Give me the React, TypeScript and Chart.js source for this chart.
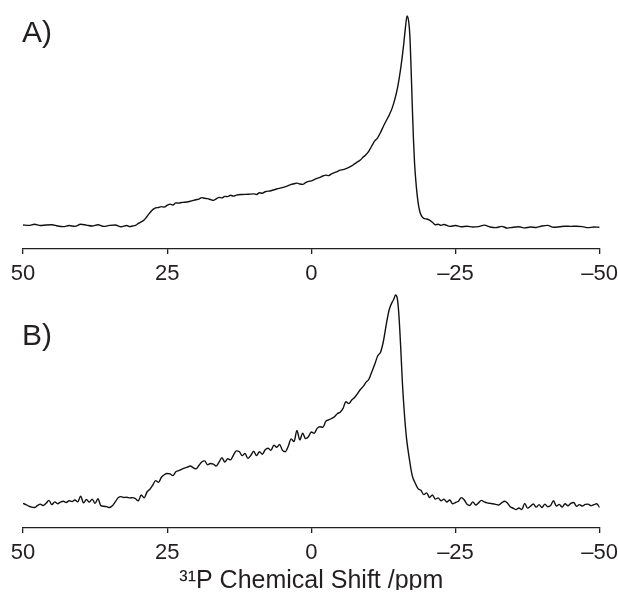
import React, { useEffect, useRef } from "react";
import { Chart, registerables } from "chart.js";

Chart.register(...registerables);

// Tick positions / labels on the chemical-shift axis (ppm, reversed)
const TICK_VALUES = [50, 25, 0, -25, -50];
const TICK_LABELS = ["50", "25", "0", "\u201325", "\u201350"];
const AXIS_TITLE = "\u00B3\u00B9P Chemical Shift /ppm";
const PANEL_LABELS = ["A)", "B)"];

// Spectrum A
const PPM_A = [
  50, 49, 48, 47, 46, 45, 44, 43, 42, 41, 40, 39, 38, 37, 36, 35, 34, 33, 32, 31.5, 31, 30.5,
  30, 29.5, 29, 28.5, 28, 27.5, 27, 26.5, 26, 25.5, 25, 24.5, 24, 23.5, 23, 22.5, 22, 21, 20,
  19.5, 19, 18.5, 18, 17.5, 17, 16.5, 16, 15.5, 15, 14.5, 14, 13.5, 13, 12, 11, 10, 9.5, 9, 8.5,
  8, 7, 6, 5, 4, 3.5, 3, 2.5, 2, 1.5, 1, 0.5, 0, -0.5, -1, -1.5, -2, -2.5, -3, -3.5, -4, -4.5,
  -5, -5.5, -6, -6.5, -7, -7.5, -8, -8.5, -9, -9.5, -10, -10.5, -11, -11.5, -12, -12.5, -13,
  -13.5, -14, -14.5, -15, -15.5, -16, -16.3, -16.6, -16.9, -17.1, -17.3, -17.5, -17.7, -17.9,
  -18.2, -18.5, -18.8, -19.1, -19.5, -20, -20.5, -21, -21.5, -22, -22.5, -23, -24, -25, -26,
  -27, -28, -29, -30, -31, -32, -33, -34, -35, -36, -37, -38, -39, -40, -41, -42, -43, -44,
  -45, -46, -47, -48, -49, -50,
];
const INT_A = [
  0.5, 0.3, 0.8, 0.2, 0.5, 0.6, 0.0, -0.3, 0.2, -0.2, 0.8, 0.4, 0.0, 0.6, -0.2, 0.3, 0.5, -0.4,
  0.2, -0.3, 0.0, 0.3, 1.2, 2.0, 2.8, 4.5, 6.3, 7.8, 8.6, 8.8, 9.2, 9.0, 9.8, 10.4, 10.0, 11.0,
  10.9, 11.2, 11.3, 11.8, 12.5, 12.8, 13.5, 13.2, 13.0, 12.6, 12.2, 12.9, 13.6, 13.4, 14.1, 14.0,
  14.6, 14.2, 14.7, 15.0, 15.1, 15.3, 15.0, 15.8, 15.6, 16.3, 16.8, 17.6, 18.3, 19.2, 19.8, 20.1,
  20.4, 20.0, 19.8, 20.6, 21.2, 21.5, 22.1, 22.7, 23.1, 23.8, 24.2, 24.0, 24.8, 25.4, 25.9, 26.6,
  26.8, 27.3, 27.9, 28.6, 29.6, 30.5, 31.4, 32.8, 34.0, 35.8, 38.2, 40.5, 42.0, 44.5, 47.5, 50.2,
  52.8, 56.0, 60.5, 66.5, 75.0, 86.0, 94.0, 100, 97.0, 90.0, 75.0, 58.0, 42.0, 30.0, 19.0, 11.5,
  7.0, 4.8, 3.6, 3.3, 2.8, 1.8, 0.6, 0.8, 0.3, 0.7, -0.2, 0.2, -0.4, -0.1, -0.5, -0.3, 0.4, -0.5,
  -0.8, -0.2, -1.0, -0.6, -0.4, -0.9, -0.5, -0.7, 0.0, 0.3, -0.6, -0.4, -0.1, -0.2, -0.1, -0.3,
  -0.8, -0.5, -0.6,
];

// Spectrum B
const PPM_B = [
  50, 49.5, 49, 48.5, 48, 47.5, 47, 46.5, 46, 45.5, 45, 44.5, 44, 43.5, 43, 42.5, 42, 41.5, 41,
  40.5, 40, 39.5, 39, 38.5, 38, 37.5, 37, 36.5, 36, 35.5, 35, 34.5, 34, 33.5, 33, 32.5, 32, 31.5,
  31, 30.5, 30, 29.5, 29, 28.5, 28, 27.5, 27, 26.5, 26, 25.5, 25, 24.5, 24, 23.5, 23, 22.5, 22,
  21.5, 21, 20.5, 20, 19.5, 19, 18.5, 18, 17.5, 17, 16.5, 16, 15.5, 15, 14.5, 14, 13.5, 13, 12.5,
  12, 11.5, 11, 10.5, 10, 9.5, 9, 8.5, 8, 7.5, 7, 6.5, 6, 5.5, 5, 4.5, 4, 3.5, 3, 2.5, 2, 1.5, 1,
  0.5, 0, -0.5, -1, -1.5, -2, -2.5, -3, -3.5, -4, -4.5, -5, -5.5, -6, -6.5, -7, -7.5, -8, -8.5,
  -9, -9.5, -10, -10.5, -11, -11.5, -12, -12.5, -13, -13.5, -14, -14.3, -14.6, -14.9, -15.2,
  -15.5, -15.8, -16.1, -16.5, -17, -17.5, -18, -18.5, -19, -19.5, -20, -20.5, -21, -21.5, -22,
  -22.5, -23, -23.5, -24, -24.5, -25, -25.5, -26, -26.5, -27, -27.5, -28, -28.5, -29, -29.5,
  -30, -30.5, -31, -31.5, -32, -32.5, -33, -33.5, -34, -34.5, -35, -35.5, -36, -36.5, -37,
  -37.5, -38, -38.5, -39, -39.5, -40, -40.5, -41, -41.5, -42, -42.5, -43, -43.5, -44, -44.5,
  -45, -45.5, -46, -46.5, -47, -47.5, -48, -48.5, -49, -49.5, -50,
];
const INT_B = [
  0.8, 0.2, -0.5, -1.0, -1.2, -0.3, 0.4, -0.2, 0.8, 2.2, 0.2, 1.5, 0.6, 1.4, 1.8, 1.2, 2.0, 1.6,
  2.4, 1.5, 4.2, 1.0, 2.6, 1.4, 2.8, 0.8, 3.0, -0.3, -0.6, -0.8, -1.2, -0.4, 1.5, 3.5, 4.0, 3.6,
  3.7, 3.4, 3.5, 3.0, 2.0, 4.8, 3.4, 6.2, 7.5, 9.5, 11.6, 10.8, 13.2, 14.4, 15.0, 14.8, 14.0, 15.8,
  16.4, 17.0, 17.6, 18.0, 18.6, 17.8, 17.2, 18.8, 20.5, 21.0, 19.2, 19.8, 19.5, 18.6, 20.4, 22.5,
  20.5, 22.0, 21.5, 23.8, 25.8, 25.5, 23.5, 24.5, 22.2, 23.6, 25.6, 23.5, 25.4, 24.2, 26.3, 27.0,
  26.0, 28.5, 27.5, 28.8, 26.0, 25.4, 28.0, 31.5, 30.2, 35.5, 31.0, 34.2, 31.6, 32.5, 34.8, 34.2,
  36.5, 37.3, 37.0, 39.8, 40.5, 41.2, 42.0, 43.5, 44.2, 46.0, 49.2, 48.3, 50.0, 51.2, 53.0, 55.0,
  56.5, 58.5, 60.0, 63.5, 67.0, 71.0, 72.8, 78.0, 86.0, 93.0, 96.5, 98.0, 100, 98.5, 90.0, 75.0,
  58.0, 45.0, 32.0, 22.0, 14.0, 10.5, 7.8, 7.0, 5.0, 5.8, 3.6, 4.8, 2.8, 3.4, 2.0, 2.8, 1.4, 2.4,
  0.6, 1.2, 1.8, 3.5, 2.5, 0.4, -0.2, 1.5, 0.0, 1.0, 2.2, 1.5, 1.0, 0.8, 0.6, 0.3, 0.0, 1.0, 1.8,
  1.0, -0.8, -1.5, -2.2, -1.4, -2.2, 0.8, -1.5, -0.6, 0.5, -1.0, 0.2, -1.2, 0.4, -0.8, -0.2, 2.0,
  -0.5, 0.3, -1.0, 0.6, -0.4, 0.8, 1.2, -0.6, 0.2, -0.5, 0.3, 0.4, -0.3, 0.2, 0.6, -1.2,
];

const FONT = "'Liberation Sans', Arial, Helvetica, sans-serif";
const INK = "#231f20";

type PanelProps = {
  ppm: number[];
  intensity: number[];
  width: number;
  height: number;
  yMin: number;
  yMax: number;
  padBottom: number;
  showTitle: boolean;
};

function Panel({ ppm, intensity, width, height, yMin, yMax, padBottom, showTitle }: PanelProps) {
  const ref = useRef<HTMLCanvasElement | null>(null);
  useEffect(() => {
    if (!ref.current) return;
    const data = ppm.map((x, i) => ({ x, y: intensity[i] }));
    const chart = new Chart(ref.current, {
      type: "line",
      data: {
        datasets: [
          {
            data,
            borderColor: "#111",
            borderWidth: 1.4,
            pointRadius: 0,
            fill: false,
            tension: 0.35,
            cubicInterpolationMode: "monotone",
          },
        ],
      },
      options: {
        animation: false,
        responsive: false,
        devicePixelRatio: 1,
        layout: { padding: { left: 23, right: 18, top: 0, bottom: padBottom } },
        plugins: { legend: { display: false }, tooltip: { enabled: false } },
        scales: {
          x: {
            type: "linear",
            min: -50,
            max: 50,
            reverse: true,
            afterBuildTicks: (axis: any) => {
              axis.ticks = TICK_VALUES.map((v) => ({ value: v }));
            },
            ticks: {
              autoSkip: false,
              maxRotation: 0,
              padding: 0,
              color: INK,
              font: { family: FONT, size: 22, lineHeight: 40 / 22 },
              callback: (v: any) => {
                const idx = TICK_VALUES.indexOf(Number(v));
                return idx >= 0 ? TICK_LABELS[idx] : "";
              },
            },
            grid: {
              drawOnChartArea: false,
              drawTicks: true,
              tickLength: 5,
              color: INK,
              lineWidth: 1.3,
            },
            border: { display: true, color: INK, width: 1.3 },
            title: {
              display: showTitle,
              text: AXIS_TITLE,
              color: INK,
              font: { family: FONT, size: 25, lineHeight: 16 / 25 },
              padding: { top: 0, bottom: 0 },
            },
          },
          y: { type: "linear", display: false, min: yMin, max: yMax },
        },
      },
    } as any);
    return () => chart.destroy();
  }, [ppm, intensity, width, height, yMin, yMax, padBottom, showTitle]);
  return <canvas ref={ref} width={width} height={height} style={{ display: "block", width, height }} />;
}

const labelStyle: React.CSSProperties = {
  position: "absolute",
  left: 22,
  fontFamily: FONT,
  fontSize: 30,
  lineHeight: "30px",
  color: INK,
};

export default function App() {
  return (
    <div style={{ position: "absolute", left: 0, top: 0, width: 618, height: 598, background: "#fff" }}>
      <div style={{ position: "absolute", left: 0, top: 0 }}>
        <Panel ppm={PPM_A} intensity={INT_A} width={618} height={294} yMin={-10.96} yMax={107.6} padBottom={0} showTitle={false} />
      </div>
      <div style={{ position: "absolute", left: 0, top: 290 }}>
        <Panel ppm={PPM_B} intensity={INT_B} width={618} height={300} yMin={-10.95} yMax={102.4} padBottom={1} showTitle={true} />
      </div>
      <div style={{ ...labelStyle, top: 16.6 }}>{PANEL_LABELS[0]}</div>
      <div style={{ ...labelStyle, top: 319.6 }}>{PANEL_LABELS[1]}</div>
    </div>
  );
}
